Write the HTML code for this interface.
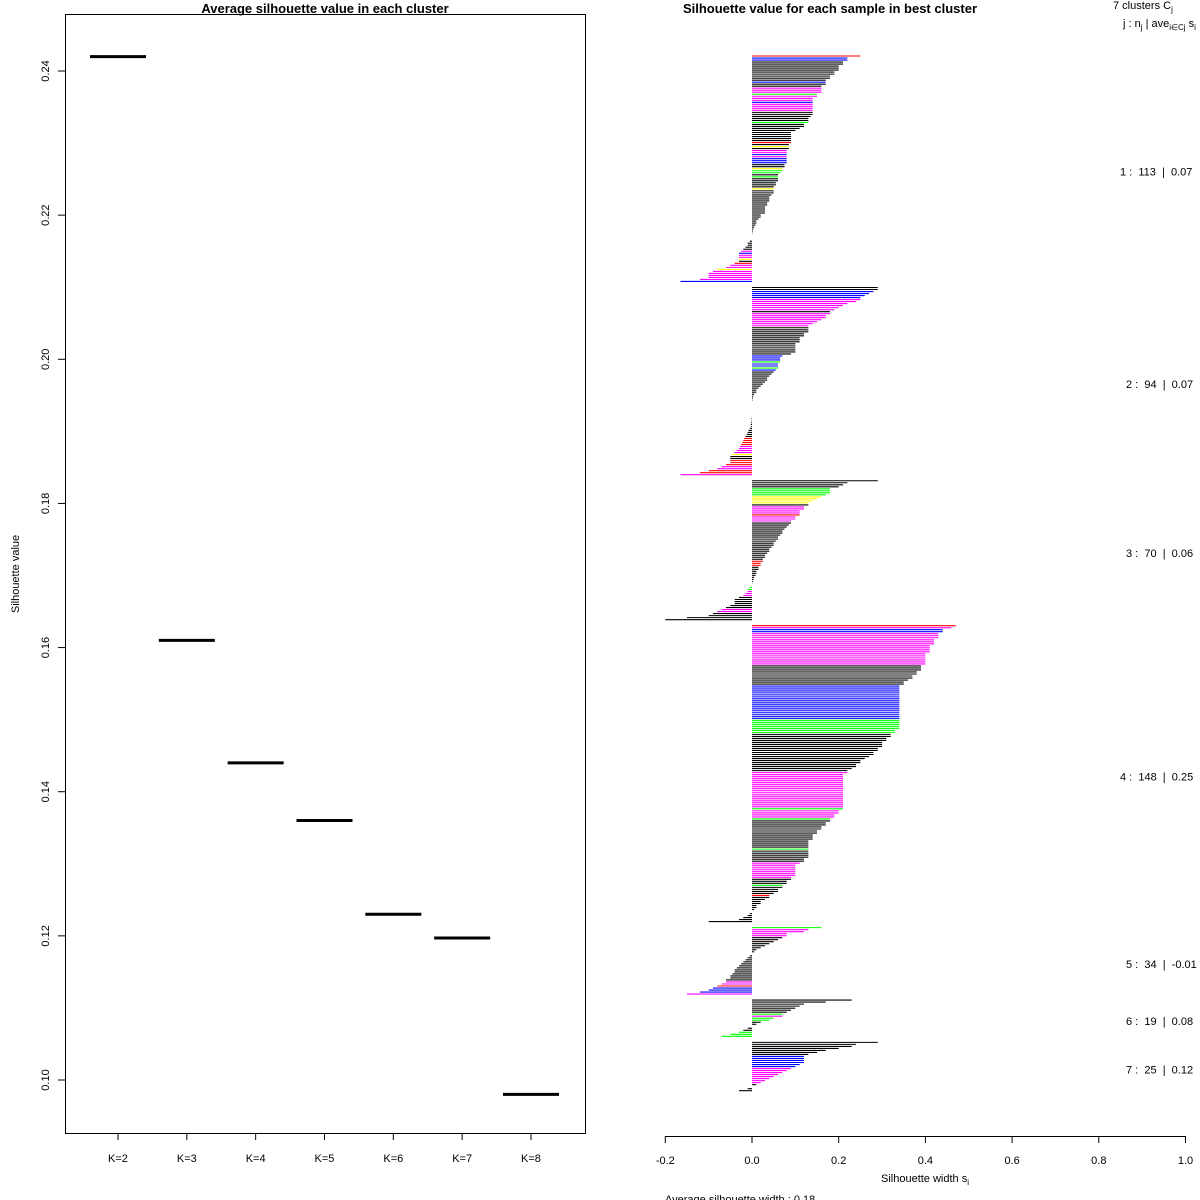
<!DOCTYPE html>
<html><head><meta charset="utf-8">
<style>
html,body{margin:0;padding:0;background:#fff;}
svg{display:block;font-family:"Liberation Sans",sans-serif;}
</style></head>
<body>
<svg id="chart" width="1200" height="1200" viewBox="0 0 1200 1200"></svg>
<script>
// ---- Left panel data ----
const kLabels = ["K=2","K=3","K=4","K=5","K=6","K=7","K=8"];
const avgSil = [0.242,0.161,0.144,0.136,0.123,0.1197,0.098];
const yTicks = [0.10,0.12,0.14,0.16,0.18,0.20,0.22,0.24];

// ---- Right panel data ----
const clusterIds = [1,2,3,4,5,6,7];
const clusterSizes = [113,94,70,148,34,19,25];
const clusterAvg = ["0.07","0.07","0.06","0.25","-0.01","0.08","0.12"];
const xTicks = [-0.2,0,0.2,0.4,0.6,0.8,1.0];
const c1 = [0.25,0.22,0.22,0.21,0.21,0.2,0.2,0.2,0.19,0.19,0.18,0.18,0.17,0.17,0.17,0.16,0.16,0.16,0.16,0.15,0.15,0.14,0.14,0.14,0.14,0.14,0.14,0.14,0.14,0.14,0.135,0.13,0.13,0.13,0.12,0.12,0.11,0.1,0.09,0.09,0.09,0.09,0.09,0.09,0.085,0.085,0.085,0.08,0.08,0.08,0.08,0.08,0.08,0.08,0.075,0.075,0.07,0.07,0.065,0.06,0.06,0.06,0.06,0.055,0.055,0.05,0.05,0.05,0.05,0.045,0.04,0.04,0.04,0.035,0.035,0.03,0.03,0.03,0.03,0.02,0.02,0.015,0.01,0.01,0.008,0.005,0.003,0.002,0.001,0,0,0,-0.005,-0.01,-0.01,-0.015,-0.02,-0.025,-0.03,-0.03,-0.03,-0.03,-0.03,-0.04,-0.05,-0.06,-0.08,-0.09,-0.1,-0.1,-0.1,-0.12,-0.165];
const c2 = [0.29,0.29,0.28,0.27,0.26,0.25,0.25,0.24,0.22,0.21,0.2,0.19,0.18,0.18,0.17,0.17,0.16,0.15,0.14,0.13,0.13,0.13,0.13,0.12,0.12,0.11,0.11,0.11,0.1,0.1,0.1,0.1,0.1,0.09,0.07,0.065,0.065,0.065,0.06,0.06,0.06,0.055,0.05,0.045,0.04,0.035,0.035,0.03,0.025,0.02,0.015,0.01,0.01,0.005,0.003,0.002,0.001,0,0,0,0,0,0,0,0,-0.001,-0.001,-0.002,-0.003,-0.002,-0.005,-0.008,-0.01,-0.012,-0.015,-0.018,-0.02,-0.022,-0.025,-0.028,-0.03,-0.035,-0.04,-0.045,-0.05,-0.05,-0.05,-0.05,-0.06,-0.07,-0.08,-0.1,-0.12,-0.165];
const c3 = [0.29,0.22,0.21,0.2,0.18,0.18,0.18,0.17,0.16,0.15,0.14,0.13,0.13,0.12,0.12,0.11,0.11,0.11,0.1,0.1,0.09,0.09,0.085,0.08,0.075,0.07,0.07,0.065,0.06,0.06,0.055,0.05,0.05,0.045,0.04,0.04,0.035,0.03,0.03,0.025,0.025,0.02,0.02,0.015,0.015,0.01,0.01,0.008,0.005,0.004,0.002,0.001,0,-0.005,-0.01,-0.01,-0.015,-0.02,-0.03,-0.04,-0.04,-0.04,-0.05,-0.06,-0.07,-0.08,-0.09,-0.1,-0.15,-0.2];
const c4 = [0.47,0.46,0.44,0.44,0.43,0.43,0.43,0.42,0.42,0.42,0.41,0.41,0.41,0.41,0.4,0.4,0.4,0.4,0.4,0.4,0.39,0.39,0.39,0.38,0.38,0.37,0.37,0.36,0.35,0.35,0.34,0.34,0.34,0.34,0.34,0.34,0.34,0.34,0.34,0.34,0.34,0.34,0.34,0.34,0.34,0.34,0.34,0.34,0.34,0.34,0.34,0.34,0.33,0.33,0.32,0.32,0.31,0.31,0.3,0.3,0.3,0.29,0.29,0.28,0.28,0.27,0.26,0.25,0.25,0.24,0.24,0.23,0.22,0.22,0.21,0.21,0.21,0.21,0.21,0.21,0.21,0.21,0.21,0.21,0.21,0.21,0.21,0.21,0.21,0.21,0.21,0.21,0.2,0.2,0.19,0.19,0.18,0.18,0.17,0.17,0.16,0.16,0.15,0.15,0.14,0.14,0.14,0.13,0.13,0.13,0.13,0.13,0.13,0.13,0.13,0.13,0.12,0.12,0.11,0.1,0.1,0.1,0.1,0.1,0.1,0.09,0.09,0.08,0.08,0.07,0.07,0.06,0.06,0.05,0.04,0.04,0.03,0.02,0.02,0.01,0.01,0.005,0,-0.005,-0.01,-0.02,-0.03,-0.1];
const c5 = [0.16,0.13,0.12,0.08,0.08,0.07,0.06,0.05,0.04,0.03,0.02,0.01,0.005,0,-0.005,-0.01,-0.015,-0.02,-0.025,-0.03,-0.035,-0.04,-0.04,-0.045,-0.05,-0.05,-0.06,-0.06,-0.07,-0.08,-0.09,-0.1,-0.12,-0.15];
const c6 = [0.23,0.17,0.12,0.11,0.1,0.09,0.08,0.07,0.07,0.05,0.04,0.02,0.01,0,-0.01,-0.02,-0.03,-0.05,-0.07];
const c7 = [0.29,0.24,0.23,0.2,0.17,0.15,0.13,0.12,0.12,0.12,0.12,0.11,0.1,0.09,0.08,0.07,0.06,0.05,0.04,0.03,0.02,0.01,0,-0.01,-0.03];
const clusterValues = [c1,c2,c3,c4,c5,c6,c7];
const clusterColors = [
 "rbbkkkkkkkkkkbkkmmmgmmmbmmmmkkkkkgkkkkkkkkkrkykmmbmbbbkkyggkgkkkkkykkkkkkkkkkkkkkkkkkkkkkkkkkkkkkmbmmykrmmymmmmmbkkr",
 "kkbbbbmmmmmmkmmmmmmmkkkkkkkkkkkkkkbbbgbbgbkkkkkkkkkkkkkkkkkkkkkkkkkkkkkkkkkrrrrmmmmykkrrrmmrrmr",
 "kkkkggggyyyykmmmmrmmmkkkkkkkkkkkkkkkkkkkrrrkkkkkkkkggggmmmkkkkkkmmkkkk",
 "rmbbmmmmmmmmmmmmmmmmkkkkkkkkkkbbbbbbbbbbbbbbbbbgggggggkkkkkkkkkkkkkkkkkkkmmmmmmmmmmmmmmmmmmgmmmmgkkkkkkkkkkkkkkgkkkkkkmmmmmmmmkkkgkkkkrkkkkkkkkkkkkk",
 "gmmmmkkkkkkkkkkkkkkkkkkkkkkmmrbbbmy",
 "kkkkkkkgmggkkkkkgggg",
 "kkkkkkkbbbbbbmmmmmmmmkkkkyy"
];
const colorMap = {k:"#000000",r:"#ff0000",g:"#00ff00",b:"#0000ff",m:"#ff00ff",y:"#ffff00"};

const svg = document.getElementById('chart');
const NS = "http://www.w3.org/2000/svg";
function mk(tag, attrs, parent){ const e=document.createElementNS(NS,tag); for(const k in attrs) e.setAttribute(k,attrs[k]); (parent||svg).appendChild(e); return e; }
function txt(s, attrs, parent){ const e=mk('text',attrs,parent); e.textContent=s; return e; }

// ===== Left panel =====
const L = {x0:65,x1:585,y0:14,y1:1133};
const yScale = v => 1080 + (v-0.10)*(71-1080)/0.14;
const kx = i => 118 + i*68.83;
const left = mk('g',{});


const box = mk('rect',{x:L.x0+0.5,y:L.y0+0.5,width:L.x1-L.x0,height:L.y1-L.y0,fill:'none',stroke:'#000','stroke-width':1},left);


const lt = txt("Average silhouette value in each cluster",{x:325,y:13,'text-anchor':'middle','font-size':13,'font-weight':'bold'},left);


yTicks.forEach(v=>{
  const y=yScale(v);
  const t=mk('line',{x1:58,x2:65,y1:y,y2:y,stroke:'#000'},left);
  
  
  const l=txt(v.toFixed(2),{x:49,y:y,'text-anchor':'middle','font-size':11,transform:`rotate(-90 49 ${y})`},left);
  
  
});
const yt = txt("Silhouette value",{x:19,y:574,'text-anchor':'middle','font-size':11,transform:'rotate(-90 19 574)'},left);


kLabels.forEach((k,i)=>{
  const x=kx(i);
  const t=mk('line',{x1:x,x2:x,y1:1133,y2:1140,stroke:'#000'},left);
  
  
  const l=txt(k,{x:x,y:1162,'text-anchor':'middle','font-size':11},left);
  
  
  const y=yScale(avgSil[i]);
  const s=mk('line',{x1:x-28,x2:x+28,y1:y,y2:y,stroke:'#000','stroke-width':3},left);
  
  
});

// ===== Right panel =====
const xScale = v => 752 + v*433.5;
const right = mk('g',{});


const rt = txt("Silhouette value for each sample in best cluster",{x:830,y:13,'text-anchor':'middle','font-size':13,'font-weight':'bold'},right);


const step = 2.013;
let row = 0;
const yTop = 56;
clusterValues.forEach((vals,ci)=>{
  const g=mk('g',{},right);
  
  
  const startRow=row;
  vals.forEach((v,j)=>{
    const y=yTop+row*step;
    const col=colorMap[clusterColors[ci][j]||'k']||'#000';
    const b=mk('line',{x1:xScale(0),x2:xScale(v),y1:y,y2:y,stroke:col,'stroke-width':1.1},g);
    
    
    row++;
  });
  const midY = yTop + (startRow + row-1)/2*step + 7;
  const lab=txt(`${clusterIds[ci]} :  ${clusterSizes[ci]}  |  ${clusterAvg[ci]}`,{x:(String(clusterSizes[ci]).length>2?1120:1126),y:midY,'font-size':11,'xml:space':'preserve',style:'white-space:pre'},right);
  
  
  row+=2;
});
// x axis
const ax=mk('line',{x1:xScale(-0.2),x2:xScale(1.0),y1:1136.5,y2:1136.5,stroke:'#000'},right);


xTicks.forEach(v=>{
  const x=xScale(v);
  const t=mk('line',{x1:x,x2:x,y1:1136,y2:1143,stroke:'#000'},right);
  
  
  const l=txt(v===0?"0.0":v.toFixed(1),{x:x,y:1164,'text-anchor':'middle','font-size':11},right);
  
  
});
const xt=txt("",{x:925,y:1182,'text-anchor':'middle','font-size':11},right);
xt.innerHTML='Silhouette width s<tspan font-size="8" dy="3">i</tspan>';


const avg=txt("Average silhouette width :  0.18",{x:665,y:1203,'font-size':11},right);


const lg1=txt("",{x:1113,y:9,'font-size':11},right);
lg1.innerHTML='7  clusters  C<tspan font-size="8" dy="3">j</tspan>';


const lg2=txt("",{x:1123,y:27,'font-size':11},right);
lg2.innerHTML='j :  n<tspan font-size="8" dy="3">j</tspan><tspan dy="-3"> | ave</tspan><tspan font-size="8" dy="3">i∈Cj</tspan><tspan dy="-3">  s</tspan><tspan font-size="8" dy="3">i</tspan>';


</script>
</body></html>
